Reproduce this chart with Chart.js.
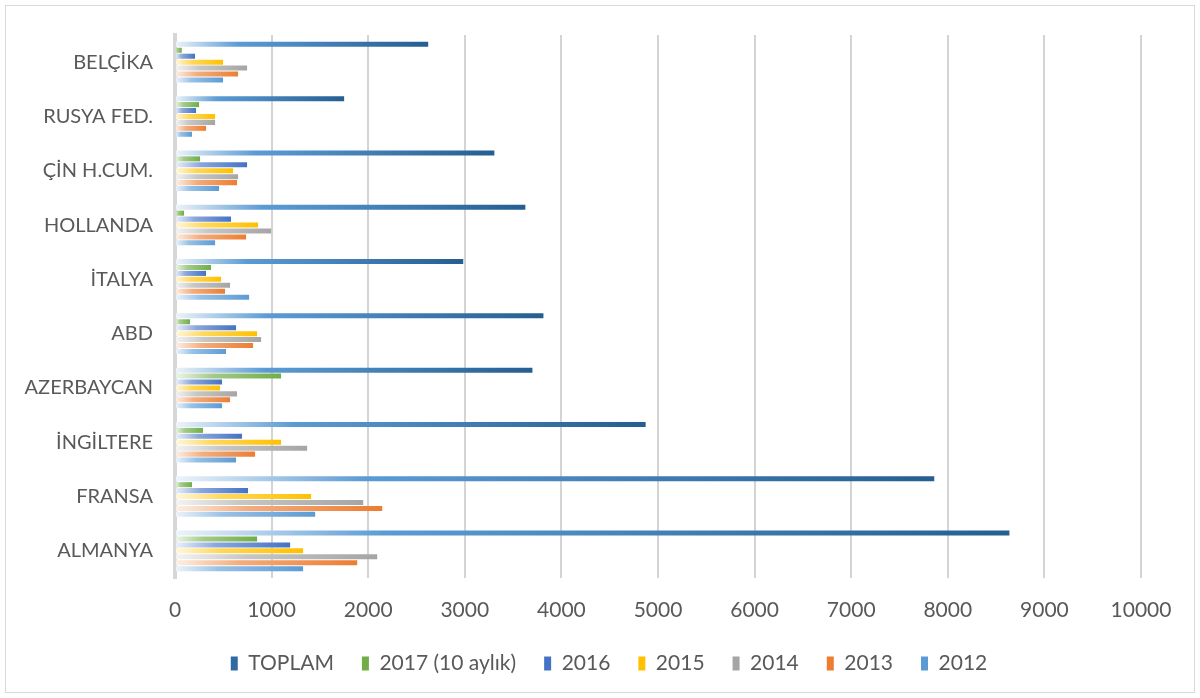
<!DOCTYPE html>
<html><head><meta charset="utf-8">
<script src="https://cdn.jsdelivr.net/npm/chart.js@4.4.0/dist/chart.umd.min.js"></script>
<style>
html,body{margin:0;padding:0;background:#fff;}
#wrap{position:relative;width:1200px;height:698px;}
#frame{position:absolute;left:5px;top:5px;width:1188px;height:686px;border:1px solid #d9d9d9;pointer-events:none;}
canvas{display:block;}
</style></head><body>
<div id="wrap"><canvas id="c" width="1200" height="698"></canvas><div id="frame"></div></div>
<script>
// ---- data ----
const categories = ['BELÇİKA','RUSYA FED.','ÇİN H.CUM.','HOLLANDA','İTALYA','ABD','AZERBAYCAN','İNGİLTERE','FRANSA','ALMANYA'];
const seriesNames = ['TOPLAM','2017 (10 aylık)','2016','2015','2014','2013','2012'];
const toplam = [2621,1751,3306,3627,2984,3814,3700,4872,7860,8638];
const y2017  = [70,249,259,93,373,155,1098,290,176,850];
const y2016  = [207,218,746,580,321,632,487,694,756,1192];
const y2015  = [497,415,601,860,477,850,466,1098,1409,1326];
const y2014  = [746,415,653,995,570,891,642,1368,1948,2093];
const y2013  = [653,321,642,736,518,808,570,829,2145,1886];
const y2012  = [497,176,456,415,767,528,487,632,1451,1326];
const xTickValues = [0,1000,2000,3000,4000,5000,6000,7000,8000,9000,10000];

// ---- styles ----
const seriesStops = [
  [[0,'#eef4fa'],[0.25,'#5b9bd5'],[1,'#255e91']],
  [[0,'#eef6ea'],[0.35,'#a3cb89'],[1,'#70ad47']],
  [[0,'#edf1f9'],[0.35,'#8ba7dc'],[1,'#4472c4']],
  [[0,'#fff8e0'],[0.35,'#ffd85c'],[1,'#ffc000']],
  [[0,'#f4f4f4'],[0.35,'#c6c6c6'],[1,'#a5a5a5']],
  [[0,'#fdf0e7'],[0.35,'#f3ad7d'],[1,'#ed7d31']],
  [[0,'#eef4fa'],[0.35,'#97c0e6'],[1,'#5b9bd5']]
];
const legendColors = ['#2e6aa3','#70ad47','#4472c4','#ffc000','#a5a5a5','#ed7d31','#5b9bd5'];
const seriesData = [toplam,y2017,y2016,y2015,y2014,y2013,y2012];

function gradFill(i){
  return function(ctx){
    const chart = ctx.chart;
    if (!chart.chartArea || ctx.type !== 'data') return legendColors[i];
    const xs = chart.scales.x;
    const x0 = xs.getPixelForValue(0), x1 = xs.getPixelForValue(ctx.raw);
    if (!(x1 > x0 + 1)) return legendColors[i];
    const g = chart.ctx.createLinearGradient(x0,0,x1,0);
    seriesStops[i].forEach(s => g.addColorStop(s[0], s[1]));
    return g;
  };
}

const FONT = 'Lato';
const TXT = '#595959';

new Chart(document.getElementById('c'), {
  type: 'bar',
  data: {
    labels: categories,
    datasets: seriesNames.map((name,i)=>({
      label: name,
      data: seriesData[i],
      backgroundColor: gradFill(i),
      borderWidth: 0,
      categoryPercentage: 0.765,
      barPercentage: 0.85
    }))
  },
  options: {
    indexAxis: 'y',
    responsive: false,
    animation: false,
    devicePixelRatio: 1,
    layout: { padding: { left: 18, right: 0, top: 35, bottom: 14 } },
    plugins: {
      tooltip: { enabled: false },
      legend: {
        position: 'bottom',
        labels: {
          font: { family: FONT, size: 21 },
          color: TXT,
          boxWidth: 7,
          boxHeight: 14,
          padding: 28,
          generateLabels(chart){
            return chart.data.datasets.map((ds,i)=>({
              text: ds.label, fillStyle: legendColors[i], strokeStyle: legendColors[i],
              lineWidth: 0, hidden: false, datasetIndex: i, fontColor: TXT
            }));
          }
        }
      }
    },
    scales: {
      x: {
        min: 0, max: 10000,
        afterBuildTicks(scale){ scale.ticks = xTickValues.map(v=>({value:v})); },
        afterFit(scale){ scale.height = 47; },
        grid: { color: '#d4d4d4', lineWidth: 2, drawTicks: false },
        border: { display: false },
        ticks: { font: { family: FONT, size: 21 }, color: TXT, padding: 20, maxRotation: 0,
          callback(v){ return String(v); } }
      },
      y: {
        afterFit(scale){ scale.width = 157; },
        grid: { display: false, drawTicks: false },
        border: { display: true, color: '#d6d6d6', width: 4 },
        ticks: { font: { family: FONT, size: 20 }, color: TXT, padding: 22 }
      },
      yRight: {
        axis: 'y',
        type: 'category',
        position: 'right',
        afterFit(scale){ scale.width = 59; },
        grid: { display: false, drawTicks: false },
        border: { display: false },
        ticks: { display: false }
      }
    }
  }
});
</script>
</body></html>
